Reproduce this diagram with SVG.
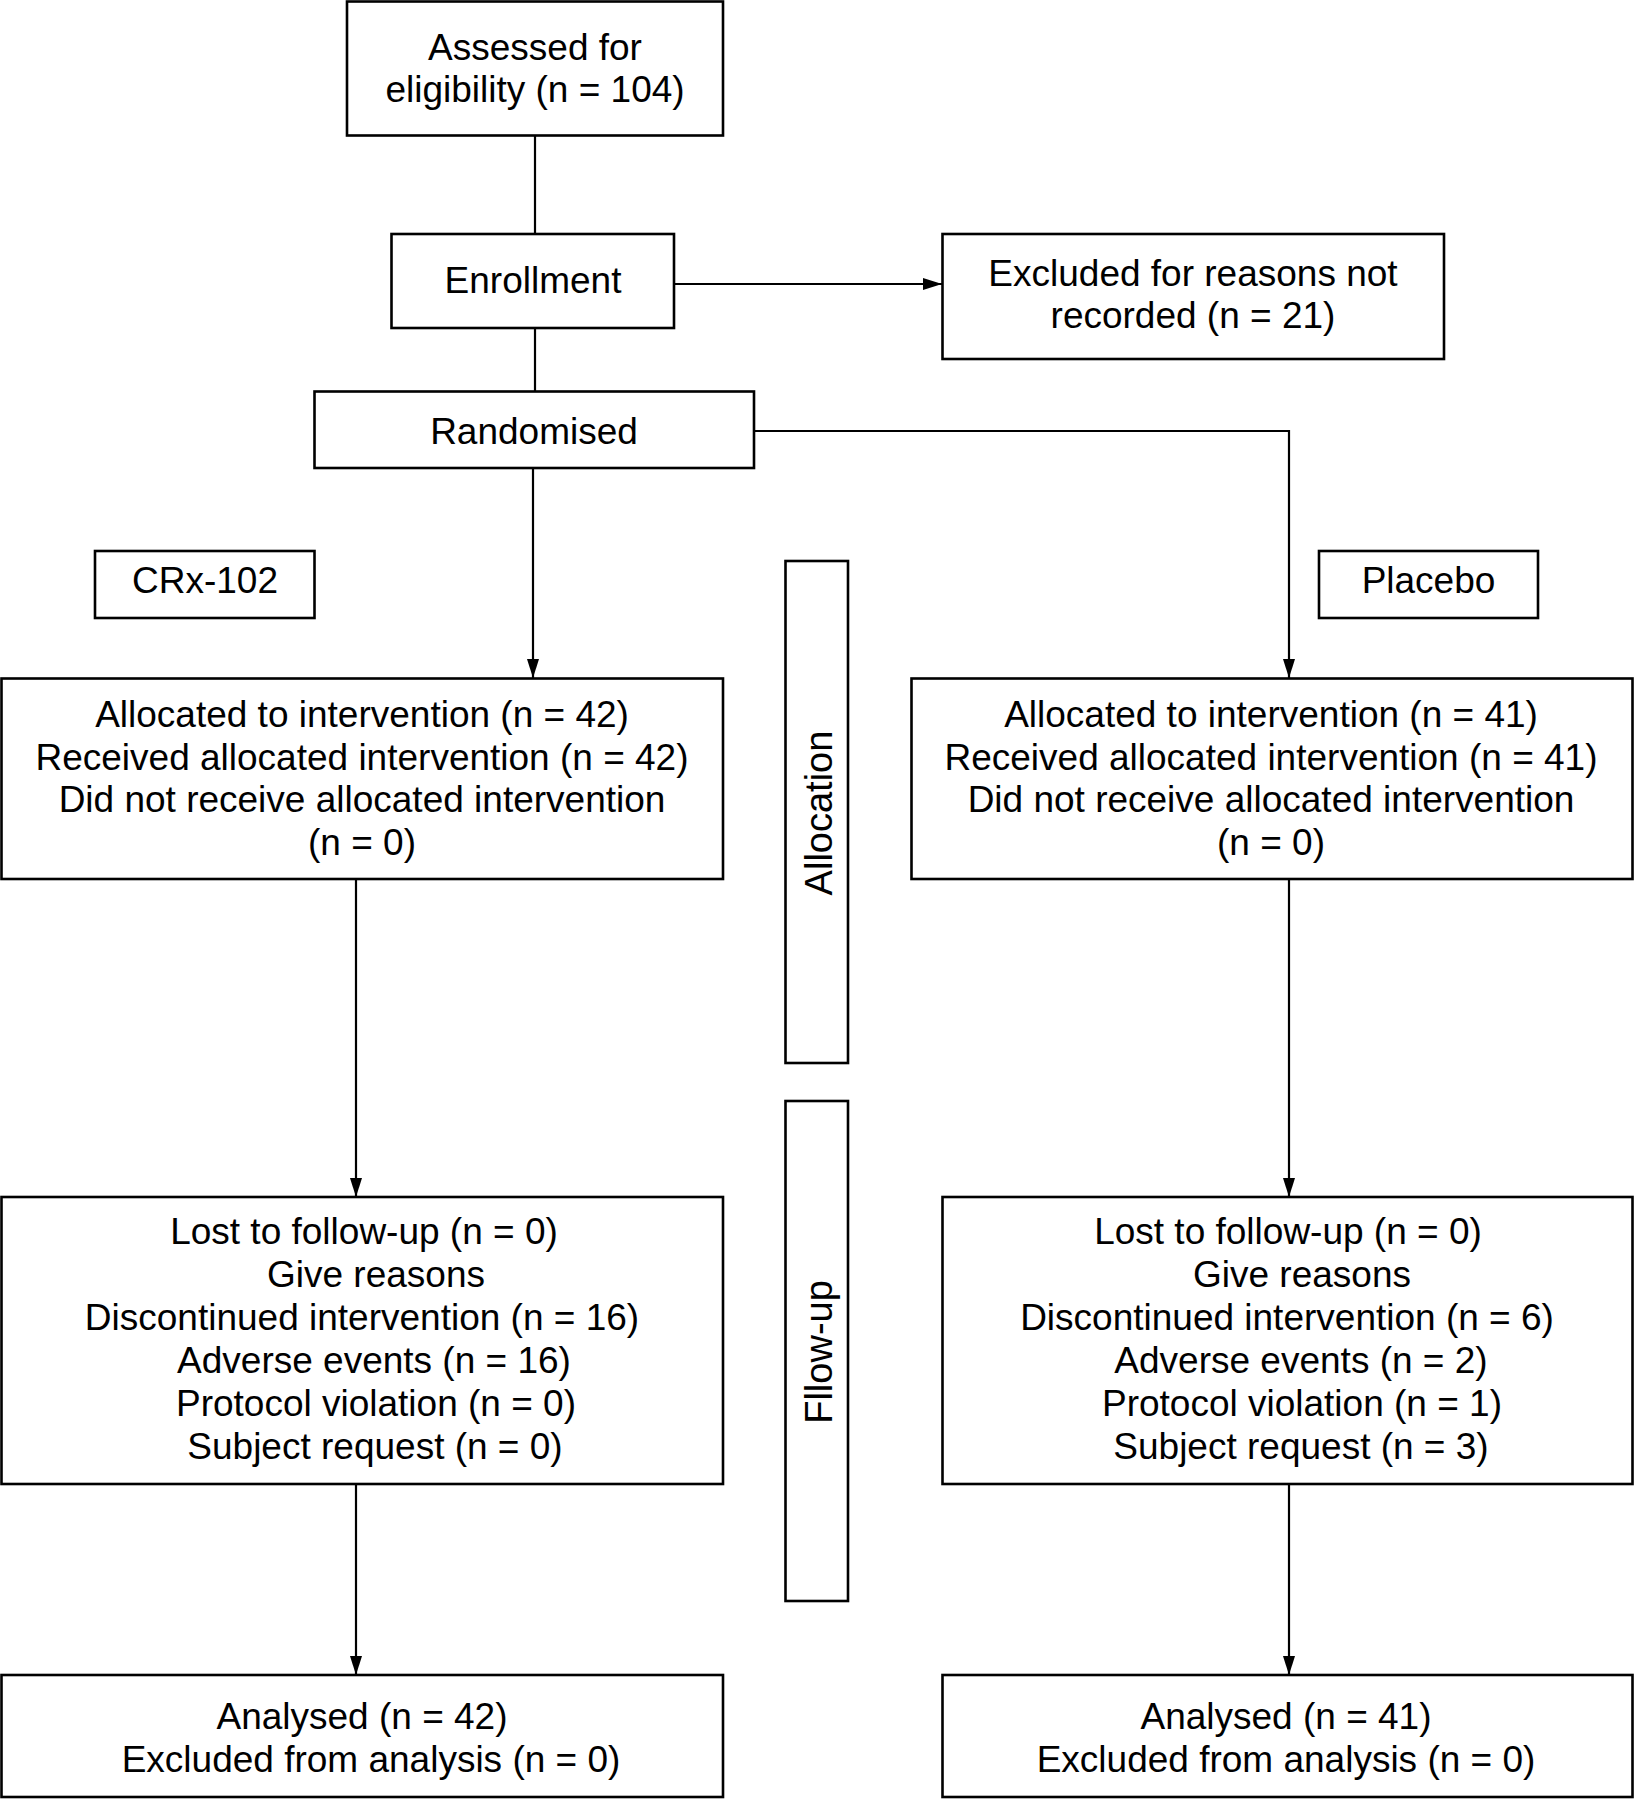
<svg xmlns="http://www.w3.org/2000/svg" width="1635" height="1800" viewBox="0 0 1635 1800">
<style>
.box{fill:#fff;stroke:#000;stroke-width:2.6}
.t{font-family:"Liberation Sans",Arial,sans-serif;font-size:37px;fill:#000;text-anchor:middle}
.v{font-family:"Liberation Sans",Arial,sans-serif;font-size:38px;fill:#000;text-anchor:middle}
.c{fill:none;stroke:#000;stroke-width:2.2}
</style>
<defs>
<marker id="ah" markerWidth="19" markerHeight="12" refX="19" refY="6" orient="auto" markerUnits="userSpaceOnUse">
<path d="M0,0 L19,6 L0,12 Z" fill="#000"/>
</marker>
</defs>
<rect width="1635" height="1800" fill="#fff"/>
<g id="connectors">
<line class="c" x1="535" y1="136" x2="535" y2="234"/>
<line class="c" x1="535" y1="328" x2="535" y2="391"/>
<line class="c" x1="674" y1="284" x2="942" y2="284" marker-end="url(#ah)"/>
<line class="c" x1="533" y1="468" x2="533" y2="678" marker-end="url(#ah)"/>
<polyline class="c" points="754,431 1289,431 1289,678" marker-end="url(#ah)"/>
<line class="c" x1="356" y1="879" x2="356" y2="1197" marker-end="url(#ah)"/>
<line class="c" x1="1289" y1="879" x2="1289" y2="1197" marker-end="url(#ah)"/>
<line class="c" x1="356" y1="1484" x2="356" y2="1675" marker-end="url(#ah)"/>
<line class="c" x1="1289" y1="1484" x2="1289" y2="1675" marker-end="url(#ah)"/>
</g>
<g id="assessed">
<rect class="box" x="347" y="1.5" width="376" height="134"/>
<text class="t" x="535" y="60">Assessed for</text>
<text class="t" x="535" y="102">eligibility (n = 104)</text>
</g>
<g id="enrollment">
<rect class="box" x="391.5" y="234" width="282.5" height="94"/>
<text class="t" x="533" y="293">Enrollment</text>
</g>
<g id="excluded">
<rect class="box" x="942.5" y="234" width="501.5" height="125"/>
<text class="t" x="1193" y="286">Excluded for reasons not</text>
<text class="t" x="1193" y="328">recorded (n = 21)</text>
</g>
<g id="randomised">
<rect class="box" x="314.5" y="391.5" width="439.5" height="76.5"/>
<text class="t" x="534" y="444">Randomised</text>
</g>
<g id="crx">
<rect class="box" x="95" y="551" width="219.5" height="67"/>
<text class="t" x="205" y="593">CRx-102</text>
</g>
<g id="placebo">
<rect class="box" x="1319" y="551" width="219" height="67"/>
<text class="t" x="1428.5" y="593">Placebo</text>
</g>
<g id="allocation-label">
<rect class="box" x="785.5" y="561" width="62.5" height="502"/>
<text class="v" transform="translate(832,813) rotate(-90)">Allocation</text>
</g>
<g id="followup-label">
<rect class="box" x="785.5" y="1101" width="62.5" height="500"/>
<text class="v" transform="translate(832,1352) rotate(-90)">Fllow-up</text>
</g>
<g id="alloc-left">
<rect class="box" x="1.5" y="678.5" width="721.5" height="200.5"/>
<text class="t" x="362" y="727">Allocated to intervention (n = 42)</text>
<text class="t" x="362" y="770">Received allocated intervention (n = 42)</text>
<text class="t" x="362" y="812">Did not receive allocated intervention</text>
<text class="t" x="362" y="855">(n = 0)</text>
</g>
<g id="alloc-right">
<rect class="box" x="911.5" y="678.5" width="721" height="200.5"/>
<text class="t" x="1271" y="727">Allocated to intervention (n = 41)</text>
<text class="t" x="1271" y="770">Received allocated intervention (n = 41)</text>
<text class="t" x="1271" y="812">Did not receive allocated intervention</text>
<text class="t" x="1271" y="855">(n = 0)</text>
</g>
<g id="followup-left">
<rect class="box" x="1.5" y="1197" width="721.5" height="287"/>
<text class="t" x="364" y="1244">Lost to follow-up (n = 0)</text>
<text class="t" x="376" y="1287">Give reasons</text>
<text class="t" x="362" y="1330">Discontinued intervention (n = 16)</text>
<text class="t" x="374" y="1373">Adverse events (n = 16)</text>
<text class="t" x="376" y="1416">Protocol violation (n = 0)</text>
<text class="t" x="375" y="1459">Subject request (n = 0)</text>
</g>
<g id="followup-right">
<rect class="box" x="942.5" y="1197" width="690" height="287"/>
<text class="t" x="1288" y="1244">Lost to follow-up (n = 0)</text>
<text class="t" x="1302" y="1287">Give reasons</text>
<text class="t" x="1287" y="1330">Discontinued intervention (n = 6)</text>
<text class="t" x="1301" y="1373">Adverse events (n = 2)</text>
<text class="t" x="1302" y="1416">Protocol violation (n = 1)</text>
<text class="t" x="1301" y="1459">Subject request (n = 3)</text>
</g>
<g id="analysed-left">
<rect class="box" x="1.5" y="1675" width="721.5" height="122"/>
<text class="t" x="362" y="1729">Analysed (n = 42)</text>
<text class="t" x="371" y="1772">Excluded from analysis (n = 0)</text>
</g>
<g id="analysed-right">
<rect class="box" x="942.5" y="1675" width="690" height="122"/>
<text class="t" x="1286" y="1729">Analysed (n = 41)</text>
<text class="t" x="1286" y="1772">Excluded from analysis (n = 0)</text>
</g>
</svg>
